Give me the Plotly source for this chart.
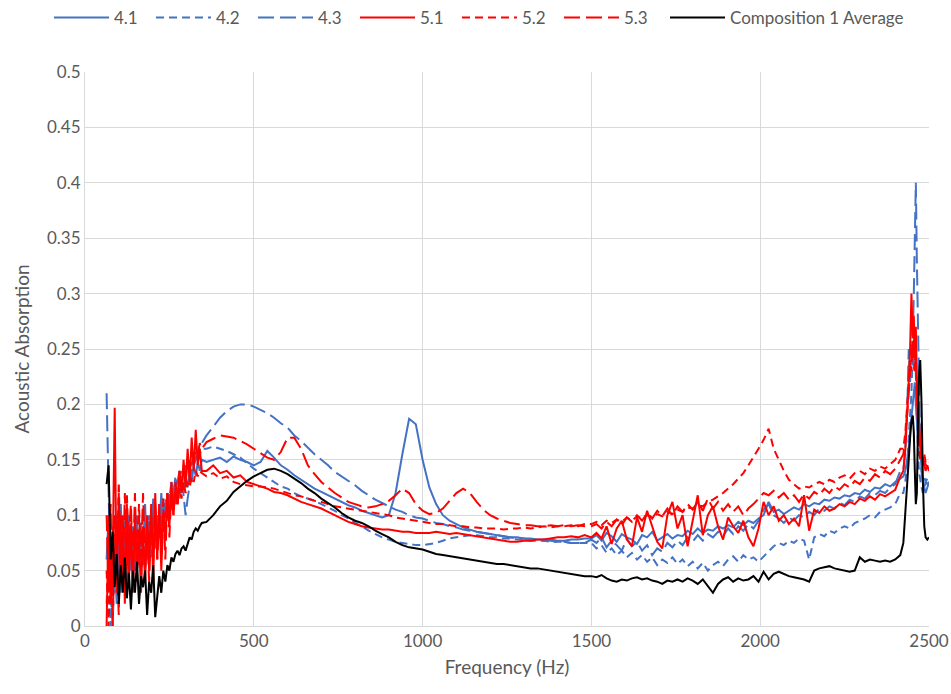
import plotly.graph_objects as go

# ---------------- Frequency grids (Hz) ----------------
FREQ_LOW = [64, 70, 76, 82, 88, 94, 100, 106, 112, 118, 124, 130, 136, 142, 148, 154, 160, 166,
            172, 178, 184, 190, 196, 202, 208, 214, 220, 226, 232, 238, 244, 250, 256, 262, 268,
            274, 280, 286, 292, 298, 304, 310, 316, 322, 328, 334, 340, 346]
FREQ_MID = [360, 380, 400, 420, 440, 460, 480, 500, 520, 540, 560, 580, 600, 620, 640, 660, 680,
            700, 720, 740, 760, 780, 800, 820, 840, 860, 880, 900, 920, 940, 960, 980, 1000, 1020,
            1040, 1060, 1080, 1100, 1120, 1140, 1160, 1180, 1200, 1220, 1240, 1260, 1280, 1300,
            1320, 1340, 1360, 1380, 1400, 1420, 1440, 1460, 1480]
FREQ_HIGH = [1500, 1515, 1530, 1545, 1560, 1575, 1590, 1605, 1620, 1635, 1650, 1665, 1680, 1695,
             1710, 1725, 1740, 1755, 1770, 1785, 1800, 1815, 1830, 1845, 1860, 1875, 1890, 1905,
             1920, 1935, 1950, 1965, 1980, 1995, 2010, 2025, 2040, 2055, 2070, 2085, 2100, 2115,
             2130, 2145, 2160, 2175, 2190, 2205, 2220, 2235, 2250, 2265, 2280, 2295, 2310, 2325,
             2340, 2355, 2370, 2385, 2400, 2415]
FREQ_PEAK = [2424, 2430, 2436, 2440, 2444, 2448, 2452, 2455, 2458, 2461, 2464, 2467, 2470, 2474,
             2478, 2482, 2486, 2490, 2495, 2500]

# ---------------- Series 4.1 (blue solid) ----------------
S41_LOW = [0.06, 0.1, 0.04, 0.09, 0.05, 0.1, 0.06, 0.11, 0.045, 0.095, 0.06, 0.1, 0.05, 0.085, 0.065,
           0.1, 0.055, 0.09, 0.07, 0.11, 0.06, 0.095, 0.075, 0.115, 0.07, 0.1, 0.085, 0.12, 0.09,
           0.11, 0.095, 0.115, 0.105, 0.12, 0.11, 0.125, 0.115, 0.13, 0.12, 0.135, 0.125, 0.14,
           0.13, 0.145, 0.135, 0.148, 0.14, 0.15]
S41_MID = [0.148, 0.15, 0.152, 0.148, 0.153, 0.15, 0.148, 0.145, 0.148, 0.158, 0.152, 0.145, 0.141,
           0.136, 0.132, 0.128, 0.124, 0.121, 0.118, 0.115, 0.112, 0.109, 0.107, 0.104, 0.102, 0.1,
           0.098, 0.1, 0.12, 0.155, 0.187, 0.182, 0.15, 0.125, 0.11, 0.1, 0.095, 0.092, 0.089, 0.087,
           0.085, 0.084, 0.083, 0.082, 0.081, 0.08, 0.08, 0.079, 0.079, 0.078, 0.078, 0.078, 0.077,
           0.077, 0.078, 0.078, 0.079]
S41_HIGH = [0.079, 0.082, 0.077, 0.084, 0.081, 0.076, 0.083, 0.08, 0.078, 0.074, 0.082, 0.08, 0.085,
            0.077, 0.08, 0.083, 0.079, 0.082, 0.081, 0.086, 0.083, 0.088, 0.084, 0.087, 0.086, 0.09,
            0.088, 0.091, 0.089, 0.094, 0.091, 0.095, 0.093, 0.097, 0.1, 0.112, 0.103, 0.105, 0.101,
            0.104, 0.107, 0.105, 0.11, 0.108, 0.111, 0.11, 0.114, 0.113, 0.116, 0.115, 0.118, 0.117,
            0.12, 0.119, 0.123, 0.121, 0.125, 0.124, 0.128, 0.126, 0.13, 0.133]
S41_PEAK = [0.135, 0.14, 0.15, 0.16, 0.175, 0.19, 0.2, 0.21, 0.22, 0.2, 0.18, 0.17, 0.19, 0.16, 0.14,
            0.13, 0.125, 0.12, 0.125, 0.13]

# ---------------- Series 4.2 (blue short dash) ----------------
S42_LOW = [0.02, 0.07, 0.0, 0.05, 0.03, 0.08, 0.04, 0.09, 0.05, 0.075, 0.04, 0.085, 0.055, 0.09,
           0.05, 0.08, 0.06, 0.095, 0.055, 0.085, 0.065, 0.1, 0.06, 0.09, 0.075, 0.1, 0.08, 0.11,
           0.09, 0.115, 0.1, 0.12, 0.11, 0.125, 0.12, 0.135, 0.125, 0.14, 0.135, 0.145, 0.14, 0.15,
           0.145, 0.155, 0.15, 0.158, 0.155, 0.16]
S42_MID = [0.16, 0.162, 0.16, 0.158, 0.155, 0.152, 0.147, 0.142, 0.138, 0.134, 0.13, 0.126, 0.124,
           0.12, 0.117, 0.115, 0.113, 0.11, 0.107, 0.104, 0.1, 0.097, 0.093, 0.09, 0.086, 0.083,
           0.08, 0.078, 0.076, 0.075, 0.074, 0.073, 0.073, 0.074, 0.075, 0.077, 0.079, 0.08, 0.081,
           0.082, 0.082, 0.081, 0.08, 0.08, 0.079, 0.079, 0.078, 0.078, 0.077, 0.077, 0.077, 0.076,
           0.076, 0.076, 0.075, 0.075, 0.075]
S42_HIGH = [0.075, 0.07, 0.073, 0.066, 0.07, 0.064, 0.068, 0.062, 0.066, 0.06, 0.064, 0.058, 0.062,
            0.055, 0.06, 0.057, 0.062, 0.056, 0.06, 0.054, 0.058, 0.052, 0.057, 0.05, 0.055, 0.058,
            0.054, 0.06, 0.063, 0.058, 0.064, 0.06, 0.062, 0.058, 0.063, 0.068, 0.072, 0.075, 0.073,
            0.077, 0.075, 0.079, 0.077, 0.06, 0.08, 0.083, 0.081, 0.086, 0.084, 0.088, 0.09, 0.088,
            0.093, 0.095, 0.097, 0.1, 0.098, 0.103, 0.105, 0.107, 0.11, 0.12]
S42_PEAK = [0.12, 0.13, 0.15, 0.17, 0.19, 0.21, 0.25, 0.23, 0.26, 0.22, 0.19, 0.16, 0.14, 0.13, 0.125,
            0.12, 0.125, 0.13, 0.133, 0.135]

# ---------------- Series 4.3 (blue long dash) ----------------
S43_LOW = [0.21, 0.12, 0.03, 0.0, 0.06, 0.02, 0.07, 0.03, 0.08, 0.04, 0.09, 0.05, 0.08, 0.04, 0.075,
           0.05, 0.085, 0.045, 0.07, 0.05, 0.08, 0.06, 0.09, 0.065, 0.1, 0.08, 0.11, 0.09, 0.115,
           0.1, 0.12, 0.115, 0.13, 0.12, 0.135, 0.13, 0.14, 0.135, 0.12, 0.1, 0.115, 0.13, 0.14,
           0.145, 0.15, 0.155, 0.16, 0.165]
S43_MID = [0.172, 0.18, 0.188, 0.194, 0.198, 0.2, 0.2, 0.198, 0.195, 0.192, 0.188, 0.183, 0.179,
           0.172, 0.167, 0.161, 0.155, 0.15, 0.145, 0.139, 0.135, 0.131, 0.127, 0.122, 0.118, 0.114,
           0.111, 0.108, 0.105, 0.103, 0.1, 0.098, 0.097, 0.095, 0.093, 0.092, 0.09, 0.089, 0.087,
           0.086, 0.085, 0.084, 0.083, 0.082, 0.081, 0.08, 0.079, 0.079, 0.078, 0.078, 0.077, 0.077,
           0.076, 0.076, 0.075, 0.075, 0.075]
S43_HIGH = [0.078, 0.075, 0.08, 0.071, 0.077, 0.073, 0.068, 0.079, 0.072, 0.076, 0.068, 0.073, 0.064,
            0.07, 0.067, 0.075, 0.071, 0.077, 0.073, 0.08, 0.076, 0.082, 0.077, 0.083, 0.08, 0.085,
            0.081, 0.088, 0.083, 0.09, 0.086, 0.092, 0.088, 0.095, 0.105, 0.11, 0.1, 0.097, 0.093,
            0.098, 0.095, 0.1, 0.098, 0.103, 0.1, 0.106, 0.104, 0.108, 0.106, 0.111, 0.109, 0.114,
            0.112, 0.117, 0.115, 0.12, 0.118, 0.122, 0.12, 0.125, 0.128, 0.14]
S43_PEAK = [0.14, 0.16, 0.2, 0.25, 0.22, 0.24, 0.26, 0.3, 0.35, 0.4, 0.33, 0.27, 0.2, 0.16, 0.14,
            0.13, 0.135, 0.13, 0.128, 0.13]

# ---------------- Series 5.1 (red solid) ----------------
S51_LOW = [0.0, 0.1, 0.02, 0.06, 0.197, 0.03, 0.12, 0.04, 0.1, 0.02, 0.11, 0.04, 0.09, 0.03, 0.1,
           0.05, 0.08, 0.03, 0.09, 0.04, 0.1, 0.05, 0.11, 0.04, 0.12, 0.06, 0.11, 0.05, 0.1, 0.08,
           0.12, 0.09, 0.13, 0.1, 0.125, 0.11, 0.14, 0.12, 0.15, 0.125, 0.16, 0.13, 0.17, 0.14,
           0.177, 0.145, 0.16, 0.14]
S51_MID = [0.14, 0.145, 0.138, 0.14, 0.134, 0.136, 0.13, 0.128, 0.126, 0.124, 0.121, 0.12, 0.118,
           0.115, 0.112, 0.11, 0.108, 0.106, 0.103, 0.1, 0.097, 0.094, 0.092, 0.09, 0.089, 0.088,
           0.087, 0.087, 0.086, 0.085, 0.085, 0.084, 0.084, 0.084, 0.085, 0.084, 0.083, 0.084,
           0.083, 0.082, 0.081, 0.08, 0.079, 0.078, 0.077, 0.076, 0.076, 0.077, 0.077, 0.078,
           0.078, 0.079, 0.08, 0.08, 0.081, 0.08, 0.082]
S51_HIGH = [0.08, 0.084, 0.079, 0.09, 0.074, 0.088, 0.095, 0.078, 0.072, 0.098, 0.085, 0.104, 0.09,
            0.076, 0.07, 0.1, 0.112, 0.088, 0.1, 0.072, 0.095, 0.118, 0.082, 0.1, 0.108, 0.09,
            0.078, 0.098, 0.09, 0.084, 0.095, 0.08, 0.072, 0.088, 0.112, 0.1, 0.108, 0.095, 0.1,
            0.092, 0.097, 0.09, 0.118, 0.086, 0.105, 0.102, 0.108, 0.104, 0.106, 0.11, 0.108, 0.112,
            0.11, 0.115, 0.113, 0.117, 0.114, 0.119, 0.117, 0.12, 0.123, 0.135]
S51_PEAK = [0.14, 0.16, 0.19, 0.22, 0.25, 0.3, 0.26, 0.28, 0.24, 0.27, 0.22, 0.2, 0.18, 0.165, 0.155,
            0.15, 0.145, 0.14, 0.145, 0.14]

# ---------------- Series 5.2 (red short dash) ----------------
S52_LOW = [0.05, 0.0, 0.08, 0.02, 0.1, 0.04, 0.13, 0.05, 0.09, 0.03, 0.12, 0.06, 0.1, 0.04, 0.09,
           0.06, 0.11, 0.05, 0.08, 0.06, 0.09, 0.07, 0.1, 0.06, 0.09, 0.075, 0.1, 0.08, 0.105, 0.09,
           0.11, 0.1, 0.115, 0.105, 0.12, 0.11, 0.125, 0.115, 0.13, 0.12, 0.13, 0.125, 0.135, 0.13,
           0.14, 0.135, 0.14, 0.138]
S52_MID = [0.135, 0.138, 0.133, 0.135, 0.13, 0.128, 0.127, 0.126, 0.126, 0.125, 0.124, 0.122, 0.12,
           0.118, 0.117, 0.115, 0.113, 0.112, 0.11, 0.108, 0.107, 0.106, 0.105, 0.104, 0.103,
           0.102, 0.101, 0.1, 0.098, 0.097, 0.096, 0.095, 0.094, 0.093, 0.092, 0.092, 0.091, 0.09,
           0.09, 0.089, 0.089, 0.088, 0.088, 0.088, 0.087, 0.088, 0.088, 0.089, 0.088, 0.089, 0.09,
           0.089, 0.09, 0.09, 0.091, 0.09, 0.092]
S52_HIGH = [0.092, 0.094, 0.091, 0.095, 0.093, 0.096, 0.094, 0.098, 0.095, 0.099, 0.097, 0.1, 0.098,
            0.101, 0.099, 0.103, 0.101, 0.105, 0.103, 0.107, 0.106, 0.109, 0.108, 0.112, 0.114,
            0.117, 0.12, 0.124, 0.128, 0.133, 0.138, 0.145, 0.152, 0.16, 0.168, 0.178, 0.16, 0.15,
            0.14, 0.132, 0.128, 0.124, 0.126, 0.125, 0.128, 0.13, 0.128, 0.132, 0.13, 0.134, 0.136,
            0.133, 0.138, 0.14, 0.137, 0.142, 0.14, 0.144, 0.142, 0.146, 0.15, 0.16]
S52_PEAK = [0.16, 0.175, 0.2, 0.22, 0.24, 0.23, 0.27, 0.25, 0.26, 0.23, 0.2, 0.18, 0.16, 0.15, 0.155,
            0.15, 0.155, 0.148, 0.15, 0.148]

# ---------------- Series 5.3 (red long dash) ----------------
S53_LOW = [0.1, 0.03, 0.11, 0.0, 0.08, 0.06, 0.01, 0.1, 0.04, 0.12, 0.05, 0.08, 0.11, 0.05, 0.12,
           0.04, 0.1, 0.06, 0.12, 0.05, 0.09, 0.04, 0.1, 0.07, 0.11, 0.06, 0.1, 0.07, 0.115, 0.06,
           0.12, 0.08, 0.125, 0.1, 0.13, 0.11, 0.14, 0.12, 0.145, 0.13, 0.15, 0.14, 0.155, 0.15,
           0.16, 0.155, 0.165, 0.16]
S53_MID = [0.166, 0.169, 0.172, 0.171, 0.17, 0.167, 0.164, 0.16, 0.156, 0.152, 0.15, 0.157, 0.17,
           0.17, 0.16, 0.145, 0.137, 0.13, 0.125, 0.12, 0.116, 0.112, 0.11, 0.108, 0.107, 0.108,
           0.11, 0.113, 0.118, 0.124, 0.12, 0.11, 0.104, 0.101, 0.102, 0.106, 0.113, 0.12, 0.124,
           0.12, 0.112, 0.105, 0.1, 0.097, 0.095, 0.093, 0.092, 0.091, 0.091, 0.09, 0.09, 0.091,
           0.09, 0.091, 0.09, 0.091, 0.09]
S53_HIGH = [0.09, 0.092, 0.088, 0.094, 0.09, 0.096, 0.091, 0.098, 0.094, 0.1, 0.095, 0.102, 0.097,
            0.104, 0.099, 0.106, 0.1, 0.108, 0.103, 0.11, 0.105, 0.112, 0.104, 0.115, 0.106, 0.112,
            0.104, 0.11, 0.103, 0.108, 0.1, 0.106, 0.11, 0.115, 0.12, 0.118, 0.122, 0.116, 0.12,
            0.114, 0.118, 0.112, 0.119, 0.115, 0.121, 0.118, 0.124, 0.12, 0.126, 0.123, 0.128,
            0.125, 0.131, 0.128, 0.134, 0.131, 0.137, 0.134, 0.14, 0.137, 0.142, 0.15]
S53_PEAK = [0.155, 0.17, 0.19, 0.21, 0.23, 0.25, 0.24, 0.26, 0.23, 0.25, 0.21, 0.19, 0.17, 0.16,
            0.155, 0.15, 0.148, 0.145, 0.143, 0.145]

# ---------------- Composition 1 Average (black) ----------------
AVG_LOW = [0.128, 0.145, 0.06, 0.085, 0.035, 0.065, 0.02, 0.055, 0.03, 0.062, 0.025, 0.048, 0.015,
           0.05, 0.03, 0.058, 0.02, 0.045, 0.035, 0.05, 0.01, 0.04, 0.03, 0.055, 0.008, 0.03, 0.045,
           0.03, 0.05, 0.04, 0.055, 0.05, 0.062, 0.058, 0.065, 0.068, 0.064, 0.07, 0.072, 0.068,
           0.075, 0.08, 0.078, 0.085, 0.088, 0.086, 0.09, 0.093]
AVG_MID = [0.094, 0.1, 0.108, 0.113, 0.121, 0.126, 0.131, 0.135, 0.138, 0.141, 0.142, 0.14, 0.137,
           0.133, 0.129, 0.124, 0.12, 0.115, 0.111, 0.107, 0.102, 0.098, 0.095, 0.093, 0.09, 0.086,
           0.083, 0.08, 0.076, 0.073, 0.071, 0.07, 0.069, 0.067, 0.065, 0.064, 0.063, 0.062, 0.061,
           0.06, 0.059, 0.058, 0.057, 0.056, 0.056, 0.055, 0.054, 0.053, 0.052, 0.052, 0.051, 0.05,
           0.049, 0.048, 0.047, 0.046, 0.045]
AVG_HIGH = [0.045, 0.044, 0.046, 0.043, 0.041, 0.04, 0.042, 0.041, 0.043, 0.044, 0.042, 0.043, 0.041,
            0.04, 0.038, 0.041, 0.04, 0.042, 0.04, 0.043, 0.041, 0.038, 0.042, 0.036, 0.03, 0.038,
            0.042, 0.044, 0.04, 0.043, 0.041, 0.042, 0.045, 0.04, 0.049, 0.042, 0.047, 0.049, 0.047,
            0.045, 0.044, 0.043, 0.042, 0.04, 0.05, 0.052, 0.053, 0.054, 0.052, 0.051, 0.05, 0.049,
            0.05, 0.062, 0.058, 0.06, 0.059, 0.058, 0.059, 0.058, 0.06, 0.064]
AVG_PEAK = [0.075, 0.1, 0.13, 0.15, 0.17, 0.185, 0.19, 0.175, 0.14, 0.11, 0.12, 0.18, 0.225, 0.24,
            0.2, 0.13, 0.09, 0.08, 0.078, 0.08]

FREQ = FREQ_LOW + FREQ_MID + FREQ_HIGH + FREQ_PEAK

SHORT_DASH = "8px,5px"
LONG_DASH = "16px,6px"

SERIES = [
    ("4.1", S41_LOW + S41_MID + S41_HIGH + S41_PEAK, "#4472C4", "solid", "legend"),
    ("4.2", S42_LOW + S42_MID + S42_HIGH + S42_PEAK, "#4472C4", SHORT_DASH, "legend"),
    ("4.3", S43_LOW + S43_MID + S43_HIGH + S43_PEAK, "#4472C4", LONG_DASH, "legend"),
    ("5.1", S51_LOW + S51_MID + S51_HIGH + S51_PEAK, "#FF0000", "solid", "legend"),
    ("5.2", S52_LOW + S52_MID + S52_HIGH + S52_PEAK, "#FF0000", SHORT_DASH, "legend"),
    ("5.3", S53_LOW + S53_MID + S53_HIGH + S53_PEAK, "#FF0000", LONG_DASH, "legend"),
    ("Composition 1 Average", AVG_LOW + AVG_MID + AVG_HIGH + AVG_PEAK, "#000000", "solid",
     "legend2"),
]

fig = go.Figure()
for name, vals, color, dash, leg in SERIES:
    fig.add_trace(go.Scatter(x=FREQ, y=vals, name=name, mode="lines", legend=leg,
                             line=dict(color=color, width=2, dash=dash)))

FONT = "Lato, Carlito, 'Liberation Sans', sans-serif"
TXT = "#595959"
GRID = "#d9d9d9"
LEG_FONT = dict(family=FONT, size=17, color=TXT)

fig.update_layout(
    width=951, height=694,
    margin=dict(l=85, r=22, t=72, b=68, autoexpand=False),
    paper_bgcolor="white", plot_bgcolor="white",
    font=dict(family=FONT, size=17, color=TXT),
    legend=dict(orientation="h", x=49 / 951, xanchor="left", xref="container",
                y=1.0, yanchor="top", yref="container", bgcolor="rgba(0,0,0,0)",
                font=LEG_FONT, itemwidth=55, entrywidth=32, traceorder="normal"),
    legend2=dict(orientation="h", x=665 / 951, xanchor="left", xref="container",
                 y=1.0, yanchor="top", yref="container", bgcolor="rgba(0,0,0,0)",
                 font=LEG_FONT, itemwidth=55),
    xaxis=dict(range=[0, 2500], dtick=500, tick0=0, showgrid=True, gridcolor=GRID,
               gridwidth=1, zeroline=False, showline=True, linecolor=GRID, linewidth=1,
               ticks="", automargin=False,
               title=dict(text="Frequency (Hz)", font=dict(size=19, color=TXT), standoff=10),
               tickfont=dict(size=17, color=TXT)),
    yaxis=dict(range=[0, 0.5], dtick=0.05, tick0=0, showgrid=True, gridcolor=GRID,
               gridwidth=1, zeroline=False, showline=True, linecolor=GRID, linewidth=1,
               ticks="", automargin=False,
               title=dict(text="Acoustic Absorption", font=dict(size=19, color=TXT), standoff=12),
               tickfont=dict(size=17, color=TXT)),
    showlegend=True,
)

fig.write_html("out.html")
